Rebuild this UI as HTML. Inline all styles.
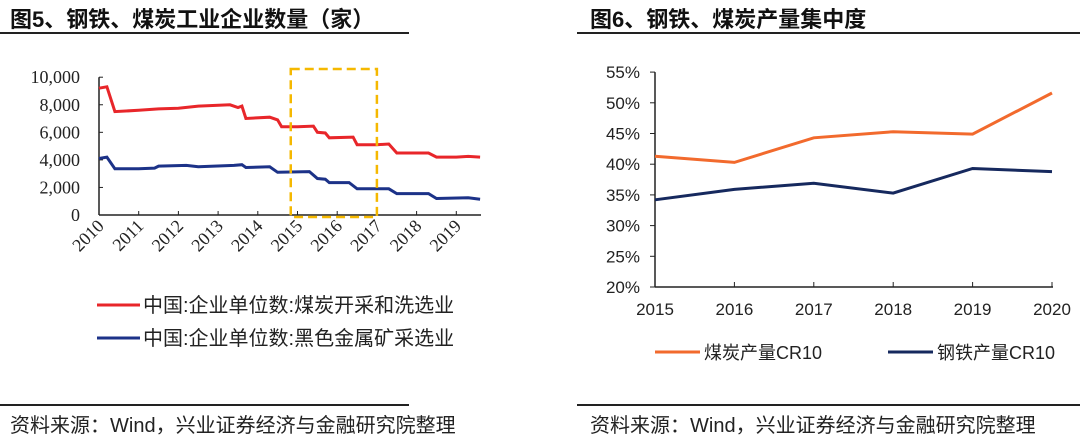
<!DOCTYPE html>
<html><head><meta charset="utf-8"><style>
body{margin:0;background:#fff;width:1080px;height:442px;overflow:hidden;font-family:"Liberation Sans","Noto Sans CJK SC",sans-serif}
.t{position:absolute;font-weight:bold;font-size:22px;color:#111;top:2px}
.hl{position:absolute;height:2px;background:#222}
.f{position:absolute;font-size:20px;color:#222;top:409px}
svg{position:absolute;left:0;top:0}
</style></head><body>
<div class="t" style="left:10px">图5、钢铁、煤炭工业企业数量（家）</div>
<div class="t" style="left:590px">图6、钢铁、煤炭产量集中度</div>
<div class="hl" style="left:0;width:409px;top:32px"></div>
<div class="hl" style="left:577px;width:503px;top:32px"></div>
<div class="hl" style="left:0;width:409px;top:404px"></div>
<div class="hl" style="left:577px;width:503px;top:404px"></div>
<div class="f" style="left:10px">资料来源：Wind，兴业证券经济与金融研究院整理</div>
<div class="f" style="left:590px">资料来源：Wind，兴业证券经济与金融研究院整理</div>
<svg id="c" width="1080" height="442"></svg>
<script>
const leftYears=[2010,2011,2012,2013,2014,2015,2016,2017,2018,2019];
const leftTicks=[0,2000,4000,6000,8000,10000];
const coalT=[2010.0,2010.2,2010.4,2011,2011.5,2012,2012.5,2013.3,2013.5,2013.6,2013.7,2014.3,2014.5,2014.6,2015.0,2015.4,2015.5,2015.7,2015.8,2016.4,2016.5,2017.0,2017.3,2017.5,2018.3,2018.5,2019.0,2019.3,2019.6];
const coalV=[9200,9300,7500,7600,7700,7750,7900,8000,7800,7900,7000,7100,6900,6400,6400,6450,6000,5950,5600,5650,5100,5100,5150,4500,4500,4200,4200,4250,4200];
const ironT=[2010.0,2010.2,2010.4,2011,2011.4,2011.5,2012.2,2012.5,2013.4,2013.6,2013.7,2014.3,2014.5,2015.3,2015.5,2015.7,2015.8,2016.3,2016.5,2017.3,2017.5,2018.3,2018.5,2019.3,2019.6];
const ironV=[4100,4200,3350,3350,3400,3550,3600,3500,3600,3650,3450,3500,3100,3150,2650,2600,2350,2350,1900,1900,1550,1550,1200,1250,1150];
const rightYears=[2015,2016,2017,2018,2019,2020];
const rightTicks=[20,25,30,35,40,45,50,55];
const coalCR10=[41.3,40.3,44.3,45.3,44.9,51.6];
const steelCR10=[34.2,35.9,36.9,35.3,39.3,38.8];
const S=document.getElementById('c'),NS='http://www.w3.org/2000/svg';
function mk(t,a,txt){const e=document.createElementNS(NS,t);for(const k in a)e.setAttribute(k,a[k]);if(txt!==undefined)e.textContent=txt;S.appendChild(e);return e;}
const lx=y=>99+(y-2010)*39.7, ly=v=>215-v*0.01378;
let e=mk('line',{x1:99,y1:ly(0),x2:481,y2:ly(0),stroke:'#222','stroke-width':1.5});

e=mk('line',{x1:99,y1:ly(0),x2:99,y2:ly(10000),stroke:'#222','stroke-width':1.5});

leftTicks.forEach(v=>{mk('line',{x1:99,y1:ly(v),x2:103,y2:ly(v),stroke:'#222'});
 e=mk('text',{x:80,y:ly(v)+6,'text-anchor':'end','font-family':'Liberation Serif,serif','font-size':18,fill:'#222'},v.toLocaleString('en-US'));
 });
leftYears.forEach(y=>{const x=lx(y);mk('line',{x1:x,y1:ly(0),x2:x,y2:ly(0)-4,stroke:'#222'});
 e=mk('text',{x:x+6,y:227,'text-anchor':'end','font-family':'Liberation Serif,serif','font-size':18,fill:'#222',transform:`rotate(-45 ${x+6} 227)`},y);
 });
function path(T,V,fx,fy){return T.map((t,i)=>(i?'L':'M')+fx(t).toFixed(1)+','+fy(V[i]).toFixed(1)).join('');}
e=mk('path',{d:path(coalT,coalV,lx,ly),fill:'none',stroke:'#e8262a','stroke-width':3});

e=mk('path',{d:path(ironT,ironV,lx,ly),fill:'none',stroke:'#1c3288','stroke-width':3});

e=mk('rect',{x:lx(2014.83),y:69,width:lx(2017)-lx(2014.83),height:148,fill:'none',stroke:'#f5b800','stroke-width':2.5,'stroke-dasharray':'9 5'});

[['#e8262a','中国:企业单位数:煤炭开采和洗选业',305],['#1c3288','中国:企业单位数:黑色金属矿采选业',338]].forEach(([c,t,y])=>{
 e=mk('line',{x1:97,y1:y,x2:140,y2:y,stroke:c,'stroke-width':3});
 e=mk('text',{x:143,y:y+7,'font-size':20,fill:'#222','font-family':'Liberation Sans,Noto Sans CJK SC,sans-serif'},t);});
const rx=y=>655+(y-2015)*79.4, ry=v=>287-(v-20)*6.14;
e=mk('line',{x1:655,y1:ry(20),x2:1053,y2:ry(20),stroke:'#222','stroke-width':1.5});

e=mk('line',{x1:655,y1:ry(20),x2:655,y2:ry(55),stroke:'#222','stroke-width':1.5});

rightTicks.forEach(v=>{mk('line',{x1:650,y1:ry(v),x2:655,y2:ry(v),stroke:'#222'});
 e=mk('text',{x:640,y:ry(v)+6,'text-anchor':'end','font-size':17,fill:'#222'},v+'%');
 });
rightYears.forEach(y=>{const x=rx(y);mk('line',{x1:x,y1:ry(20),x2:x,y2:ry(20)-5,stroke:'#222'});
 e=mk('text',{x:x,y:315,'text-anchor':'middle','font-size':17,fill:'#222'},y);
 });
e=mk('path',{d:path(rightYears,coalCR10,rx,ry),fill:'none',stroke:'#f26a2d','stroke-width':3});

e=mk('path',{d:path(rightYears,steelCR10,rx,ry),fill:'none',stroke:'#16295e','stroke-width':3});

[['#f26a2d','煤炭产量CR10',655],['#16295e','钢铁产量CR10',888]].forEach(([c,t,x])=>{
 e=mk('line',{x1:x,y1:352,x2:x+45,y2:352,stroke:c,'stroke-width':3});
 e=mk('text',{x:x+49,y:359,'font-size':18,fill:'#222'},t);});
</script>
</body></html>
